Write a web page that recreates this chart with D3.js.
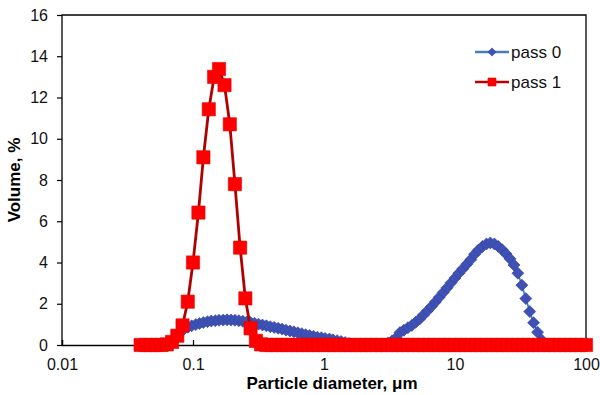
<!DOCTYPE html>
<html>
<head>
<meta charset="utf-8">
<script src="https://cdn.jsdelivr.net/npm/d3@7"></script>
<style>
  body{margin:0;background:#fff;}
  svg{display:block;font-family:"Liberation Sans",Arial,sans-serif;}
</style>
</head>
<body>
<svg id="plot"></svg>
<script>
const width = 600;
const height = 395;
const margin = {top: 15, right: 14, bottom: 50, left: 62};

// pass 0 : particle diameter (um) and volume (%)
const pass0Diameter = [
  0.0562, 0.0603, 0.0646, 0.0692, 0.0741, 0.0794, 0.0851, 0.0912, 0.0977, 0.105,
  0.112, 0.120, 0.129, 0.138, 0.148, 0.158, 0.170, 0.182, 0.195, 0.209,
  0.224, 0.240, 0.257, 0.275, 0.295, 0.316, 0.339, 0.363, 0.389, 0.417,
  0.447, 0.479, 0.513, 0.550, 0.589, 0.631, 0.676, 0.724, 0.776, 0.832,
  0.891, 0.955, 1.02, 1.10, 1.17, 1.26, 1.35, 1.45, 1.55, 1.66,
  1.78, 1.91, 2.04, 2.19, 2.34, 2.51, 2.69, 2.88, 3.09, 3.31,
  3.55, 3.80, 4.07, 4.37, 4.68, 5.01, 5.37, 5.75, 6.17, 6.61,
  7.08, 7.59, 8.13, 8.71, 9.33, 10.0, 10.7, 11.5, 12.3, 13.2,
  14.1, 15.1, 16.2, 17.4, 18.6, 20.0, 21.4, 22.9, 24.5, 26.3,
  28.2, 30.2, 32.4, 34.7, 37.2, 39.8, 42.7, 45.7, 49.0, 52.5, 56.2
];
const pass0Volume = [
  0, 0.02, 0.08, 0.20, 0.38, 0.58, 0.76, 0.86, 0.93, 0.99,
  1.04, 1.09, 1.13, 1.16, 1.18, 1.20, 1.21, 1.22, 1.21, 1.20,
  1.18, 1.15, 1.12, 1.09, 1.05, 1.01, 0.97, 0.93, 0.89, 0.85,
  0.81, 0.77, 0.72, 0.68, 0.64, 0.59, 0.55, 0.50, 0.46, 0.42,
  0.38, 0.35, 0.32, 0.29, 0.25, 0.21, 0.17, 0.12, 0.07, 0.03,
  0.01, 0, 0, 0, 0, 0, 0.01, 0.04, 0.10, 0.20,
  0.34, 0.60, 0.72, 0.84, 0.95, 1.10, 1.26, 1.46, 1.66, 1.87,
  2.09, 2.32, 2.55, 2.78, 3.02, 3.25, 3.48, 3.70, 3.92, 4.14,
  4.40, 4.60, 4.78, 4.90, 4.95, 4.90, 4.78, 4.62, 4.42, 4.18,
  3.88, 3.48, 2.90, 2.25, 1.62, 1.08, 0.62, 0.25, 0.04, 0, 0
];

// pass 1
const pass1Diameter = [
  0.0398, 0.0437, 0.0479, 0.0525, 0.0575, 0.0631, 0.0692, 0.0759, 0.0832, 0.0912,
  0.100, 0.110, 0.120, 0.132, 0.145, 0.158, 0.174, 0.191, 0.209, 0.229,
  0.251, 0.275, 0.302, 0.331, 0.363, 0.398, 0.437, 0.479, 0.525, 0.575,
  0.631, 0.692, 0.759, 0.832, 0.912, 1.00, 1.10, 1.20, 1.32, 1.45,
  1.58, 1.74, 1.91, 2.09, 2.29, 2.51, 2.75, 3.02, 3.31, 3.63,
  3.98, 4.37, 4.79, 5.25, 5.75, 6.31, 6.92, 7.59, 8.32, 9.12,
  10.0, 11.0, 12.0, 13.2, 14.5, 15.8, 17.4, 19.1, 20.9, 22.9,
  25.1, 27.5, 30.2, 33.1, 36.3, 39.8, 43.7, 47.9, 52.5, 57.5,
  63.1, 69.2, 75.9, 83.2, 91.2, 100
];
const pass1Volume = [
  0, 0, 0, 0, 0, 0.03, 0.15, 0.45, 0.95, 2.10,
  4.00, 6.42, 9.10, 11.43, 13.00, 13.38, 12.60, 10.70, 7.80, 4.72,
  2.26, 0.81, 0.20, 0.03, 0, 0, 0, 0, 0, 0,
  0, 0, 0, 0, 0, 0, 0, 0, 0, 0,
  0, 0, 0, 0, 0, 0, 0, 0, 0, 0,
  0, 0, 0, 0, 0, 0, 0, 0, 0, 0,
  0, 0, 0, 0, 0, 0, 0, 0, 0, 0,
  0, 0, 0, 0, 0, 0, 0, 0, 0, 0,
  0, 0, 0, 0, 0, 0
];

const xTicks = [0.01, 0.1, 1, 10, 100];
const xTickLabels = ['0.01', '0.1', '1', '10', '100'];
const yTicks = [0, 2, 4, 6, 8, 10, 12, 14, 16];
const seriesNames = ['pass 0', 'pass 1'];

let svg, sx, sy;

function main(){
  svg = d3.select('svg#plot')
  .attr('width', width)
  .attr('height', height);

  sx = d3.scaleLog()
  .domain([0.01, 100])
  .range([margin.left, width - margin.right]);
  sy = d3.scaleLinear()
  .domain([0, 16])
  .range([height - margin.bottom, margin.top]);

  drawAxes();
  drawSeries(pass0Diameter, pass0Volume, 'blue');
  drawSeries(pass1Diameter, pass1Volume, 'red');
  drawLegend();
}

function drawAxes(){
  // frame
  svg.append('path')
  .attr('d', `M${sx(0.01)},${sy(0)}V${sy(16)}H${sx(100)}V${sy(0)}`)
  .attr('fill', 'none')
  .attr('stroke', '#000')
  .attr('stroke-width', 1.3);

  let yAxis = svg.append('g')
  .attr('transform', `translate(${margin.left},0)`)
  .call(d3.axisLeft(sy).tickValues(yTicks).tickSize(5).tickPadding(9));
  yAxis.select('.domain').remove();
  yAxis.selectAll('line').attr('stroke', '#000').attr('stroke-width', 1.2);
  yAxis.selectAll('text').attr('font-size', 16).attr('fill', '#111')
  .attr('font-family', '"Liberation Sans",Arial,sans-serif');

  let xAxis = svg.append('g')
  .attr('transform', `translate(0,${sy(0)})`)
  .call(d3.axisBottom(sx).tickValues(xTicks)
    .tickFormat((d,i)=>xTickLabels[i]).tickSize(-5).tickPadding(14));
  xAxis.select('.domain').attr('stroke', '#000').attr('stroke-width', 1.3);
  xAxis.selectAll('line').attr('stroke', '#000').attr('stroke-width', 1.2);
  xAxis.selectAll('text').attr('font-size', 16).attr('fill', '#111')
  .attr('font-family', '"Liberation Sans",Arial,sans-serif');

  svg.append('text')
  .attr('x', 332)
  .attr('y', 389)
  .attr('text-anchor', 'middle')
  .attr('font-size', 17)
  .attr('font-weight', 'bold')
  .text('Particle diameter, μm');

  svg.append('text')
  .attr('transform', `translate(20,${(sy(0)+sy(16))/2}) rotate(-90)`)
  .attr('text-anchor', 'middle')
  .attr('font-size', 17)
  .attr('font-weight', 'bold')
  .text('Volume, %');
}

const styles = {
  blue: {line: '#3a7fc0', lineWidth: 1.6, fill: '#3f51b5', stroke: '#33449e',
    symbol: d3.symbolSquare, size: 72, rotate: 45},
  red: {line: '#b00000', lineWidth: 2.8, fill: '#ff0000', stroke: '#e80000',
    symbol: d3.symbolSquare, size: 175, rotate: 0}
};

function drawSeries(xs, ys, key){
  let st = styles[key];
  let data = xs.map((d,i)=>({x: d, y: ys[i]}));

  svg.append('path')
  .datum(data)
  .attr('fill', 'none')
  .attr('stroke', st.line)
  .attr('stroke-width', st.lineWidth)
  .attr('stroke-linejoin', 'round')
  .attr('d', d3.line().x(d=>sx(d.x)).y(d=>sy(d.y)));

  svg.selectAll('.mk-' + key)
  .data(data)
  .enter()
  .append('path')
  .attr('class', 'mk-' + key)
  .attr('transform', d=>`translate(${sx(d.x)},${sy(d.y)}) rotate(${st.rotate})`)
  .attr('d', d3.symbol(st.symbol, st.size))
  .attr('fill', st.fill)
  .attr('stroke', st.stroke)
  .attr('stroke-width', 0.6);
}

function drawLegend(){
  let keys = ['blue', 'red'];
  let sizes = [34, 64];
  let g = svg.append('g');
  keys.forEach((k,i)=>{
    let st = styles[k];
    let y = 52 + i*30;
    g.append('line')
    .attr('x1', 475).attr('x2', 509)
    .attr('y1', y).attr('y2', y)
    .attr('stroke', k=='blue' ? '#4a7ebb' : '#c00000')
    .attr('stroke-width', 2.5);
    g.append('path')
    .attr('transform', `translate(492,${y}) rotate(${st.rotate})`)
    .attr('d', d3.symbol(st.symbol, sizes[i]))
    .attr('fill', st.fill)
    .attr('stroke', st.stroke)
    .attr('stroke-width', 0.6);
    g.append('text')
    .attr('x', 511)
    .attr('y', y)
    .attr('dy', '0.36em')
    .attr('font-size', 17)
    .attr('fill', '#111')
    .text(seriesNames[i]);
  });
}

document.addEventListener('DOMContentLoaded', main);
</script>
</body>
</html>
